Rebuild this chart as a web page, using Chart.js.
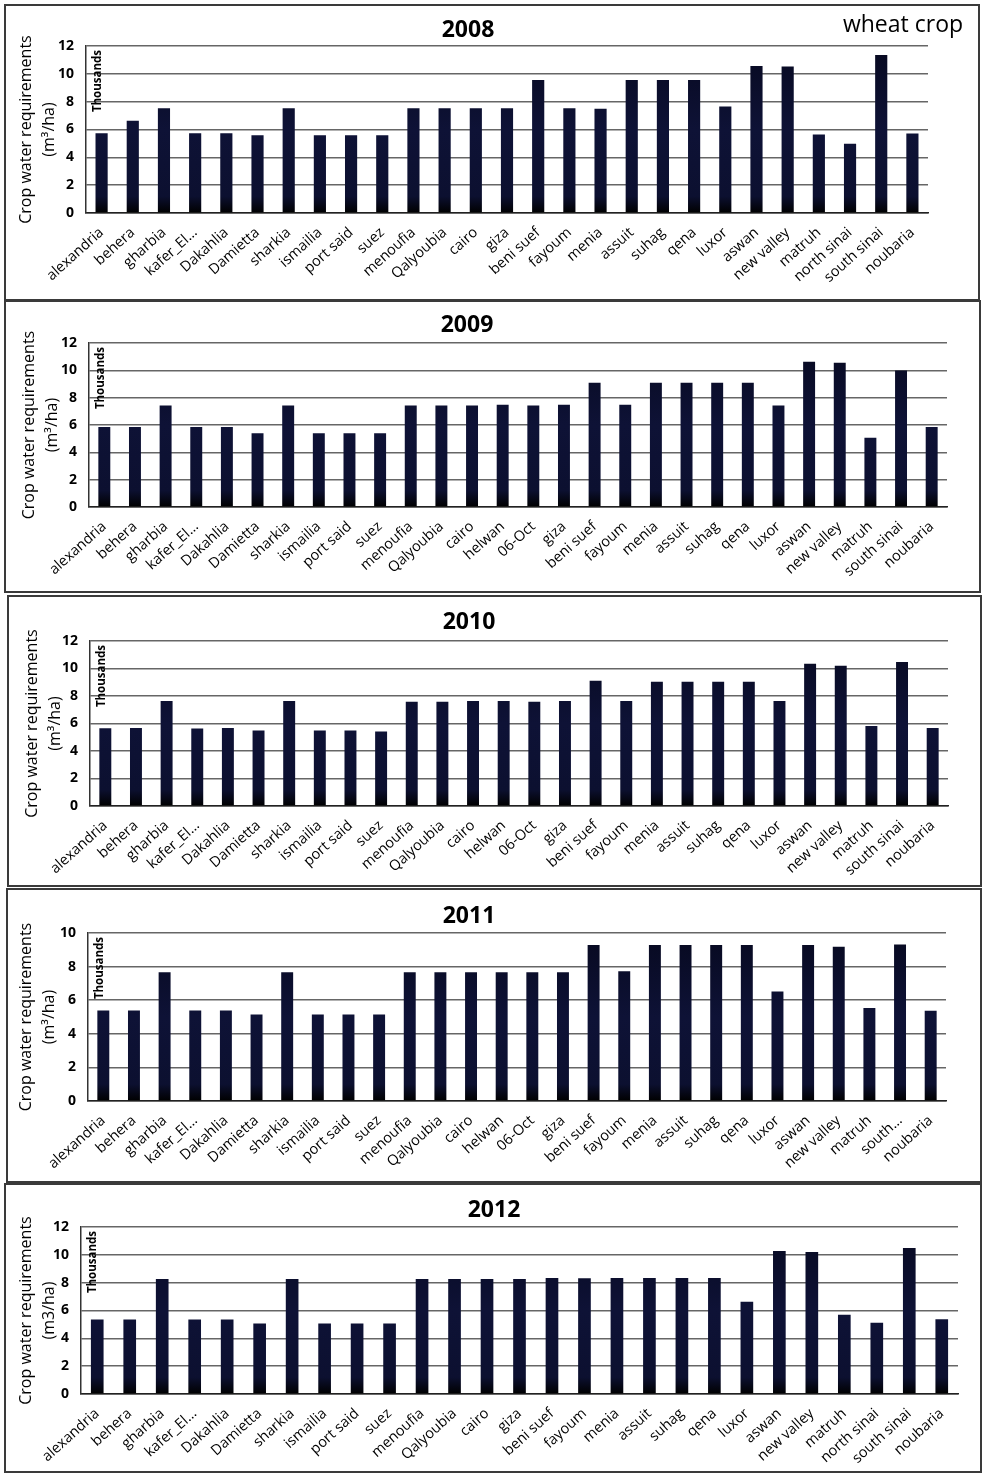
<!DOCTYPE html>
<html>
<head>
<meta charset="utf-8">
<script src="https://cdn.jsdelivr.net/npm/chart.js@4.4.0/dist/chart.umd.min.js"></script>
<style>
  html, body { margin: 0; padding: 0; background: #fff; }
  body { width: 982px; height: 1473px; position: relative; overflow: hidden; }
  .panel { position: absolute; box-sizing: border-box; border: 2px solid #3a3a3a; }
  .panel canvas { position: absolute; left: -2px; top: -2px; }
</style>
</head>
<body>
<script>
// governorates (two layouts: with north sinai, or with helwan / 06-Oct)
const govsA = ['alexandria', 'behera', 'gharbia', 'kafer_El…', 'Dakahlia', 'Damietta', 'sharkia',
  'ismailia', 'port said', 'suez', 'menoufia', 'Qalyoubia', 'cairo', 'giza', 'beni suef', 'fayoum',
  'menia', 'assuit', 'suhag', 'qena', 'luxor', 'aswan', 'new valley', 'matruh', 'north sinai',
  'south sinai', 'noubaria'];
const govsB = ['alexandria', 'behera', 'gharbia', 'kafer_El…', 'Dakahlia', 'Damietta', 'sharkia',
  'ismailia', 'port said', 'suez', 'menoufia', 'Qalyoubia', 'cairo', 'helwan', '06-Oct', 'giza',
  'beni suef', 'fayoum', 'menia', 'assuit', 'suhag', 'qena', 'luxor', 'aswan', 'new valley',
  'matruh', 'south sinai', 'noubaria'];
const govsC = ['alexandria', 'behera', 'gharbia', 'kafer_El…', 'Dakahlia', 'Damietta', 'sharkia',
  'ismailia', 'port said', 'suez', 'menoufia', 'Qalyoubia', 'cairo', 'helwan', '06-Oct', 'giza',
  'beni suef', 'fayoum', 'menia', 'assuit', 'suhag', 'qena', 'luxor', 'aswan', 'new valley',
  'matruh', 'south…', 'noubaria'];

// wheat water requirement, thousands of m3/ha
const water2008 = [5.73, 6.63, 7.52, 5.73, 5.73, 5.58, 7.52, 5.58, 5.58, 5.58, 7.52, 7.52, 7.52,
  7.53, 9.56, 7.53, 7.50, 9.56, 9.56, 9.56, 7.65, 10.57, 10.52, 5.64, 4.97, 11.36, 5.71];
const water2009 = [5.85, 5.85, 7.42, 5.85, 5.85, 5.39, 7.42, 5.39, 5.39, 5.39, 7.42, 7.42, 7.42,
  7.49, 7.42, 7.49, 9.09, 7.49, 9.09, 9.09, 9.09, 9.09, 7.42, 10.63, 10.56, 5.07, 9.99, 5.85];
const water2010 = [5.66, 5.68, 7.63, 5.64, 5.68, 5.49, 7.63, 5.49, 5.49, 5.42, 7.58, 7.58, 7.63,
  7.63, 7.58, 7.63, 9.11, 7.63, 9.04, 9.04, 9.04, 9.04, 7.63, 10.35, 10.20, 5.81, 10.47, 5.68];
const water2011 = [5.39, 5.39, 7.67, 5.39, 5.39, 5.15, 7.67, 5.15, 5.15, 5.15, 7.67, 7.67, 7.67,
  7.67, 7.67, 7.67, 9.28, 7.73, 9.28, 9.28, 9.28, 9.28, 6.52, 9.28, 9.18, 5.53, 9.32, 5.37];
const water2012 = [5.36, 5.36, 8.27, 5.36, 5.36, 5.07, 8.27, 5.07, 5.07, 5.07, 8.27, 8.27, 8.27,
  8.27, 8.34, 8.32, 8.34, 8.34, 8.34, 8.34, 6.62, 10.28, 10.21, 5.69, 5.12, 10.50, 5.38];

const years = ['2008', '2009', '2010', '2011', '2012'];
const yMax = [12, 12, 12, 10, 12];
const yStep = [2, 2, 2, 1, 2];
const unitLines = [
  ['Crop water requirements', '(m³/ha)'],
  ['Crop water requirements', '(m³/ha)'],
  ['Crop water requirements', '(m³/ha)'],
  ['Crop water requirements', '(m³/ha)'],
  ['Crop water requirements', '(m3/ha)']
];

const series = [
  { labels: govsA, values: water2008 },
  { labels: govsB, values: water2009 },
  { labels: govsB, values: water2010 },
  { labels: govsC, values: water2011 },
  { labels: govsA, values: water2012 }
];

// page geometry of each panel: outer box, plot area, title centre
const panels = [
  { box: [4, 4, 976, 297], plot: [86, 46, 928, 213], title: [468, 30], pad: 11, note: true },
  { box: [4, 300, 977, 293], plot: [89, 343, 947, 507], title: [467, 325], pad: 14 },
  { box: [7, 595, 975, 292], plot: [90, 641, 948, 806], title: [469, 622], pad: 14 },
  { box: [6, 888, 976, 295], plot: [88, 933, 946, 1101], title: [469, 916], pad: 9 },
  { box: [4, 1183, 978, 290], plot: [81, 1227, 958, 1394], title: [494, 1210], pad: 11 }
];

const FONT = "'Open Sans', 'DejaVu Sans', sans-serif";

function barFill(ctx) {
  const area = ctx.chart.chartArea;
  if (!area) return '#0d1033';
  const g = ctx.chart.ctx.createLinearGradient(0, area.top, 0, area.bottom);
  g.addColorStop(0, '#070920');
  g.addColorStop(0.5, '#0e1236');
  g.addColorStop(0.9, '#0c1030');
  g.addColorStop(1, '#000000');
  return g;
}

// year heading, "Thousands" unit tag and crop name
const panelText = {
  id: 'panelText',
  afterDraw(chart, args, opts) {
    const c = chart.ctx;
    const area = chart.chartArea;
    c.save();
    c.fillStyle = '#000';
    c.textAlign = 'center';
    c.textBaseline = 'middle';
    c.font = `bold 23px ${FONT}`;
    c.fillText(opts.year, opts.tx, opts.ty);
    if (opts.note) {
      c.font = `23px ${FONT}`;
      c.fillText('wheat crop', 903 - opts.ox, 25 - opts.oy);
    }
    c.translate(area.left + 12, area.top + 4);
    c.rotate(-Math.PI / 2);
    c.textAlign = 'right';
    c.font = `bold 11.5px ${FONT}`;
    c.fillText('Thousands', 0, 0);
    c.restore();
  }
};

panels.forEach((p, i) => {
  const [bx, by, bw, bh] = p.box;
  const [pl, pt, pr, pb] = p.plot;
  const div = document.createElement('div');
  div.className = 'panel';
  Object.assign(div.style, { left: bx + 'px', top: by + 'px', width: bw + 'px', height: bh + 'px' });
  const canvas = document.createElement('canvas');
  canvas.width = bw;
  canvas.height = bh;
  div.appendChild(canvas);
  document.body.appendChild(div);

  new Chart(canvas, {
    type: 'bar',
    data: {
      labels: series[i].labels,
      datasets: [{
        data: series[i].values,
        backgroundColor: barFill,
        borderWidth: 0,
        barPercentage: 0.39,
        categoryPercentage: 1
      }]
    },
    options: {
      responsive: false,
      animation: false,
      events: [],
      layout: { padding: { left: 0, top: pt - by, right: bx + bw - pr, bottom: 0 } },
      plugins: {
        legend: { display: false },
        tooltip: { enabled: false },
        panelText: { year: years[i], tx: p.title[0] - bx, ty: p.title[1] - by, note: !!p.note, ox: bx, oy: by }
      },
      scales: {
        x: {
          grid: { display: false, drawTicks: false },
          border: { color: '#222', width: 1.5 },
          ticks: {
            autoSkip: false, minRotation: 42, maxRotation: 42, padding: 11,
            color: '#000', font: { family: FONT, size: 14.5 }
          },
          afterFit: s => { s.height = by + bh - pb; }
        },
        y: {
          min: 0,
          max: yMax[i],
          ticks: { stepSize: yStep[i], padding: 12, color: '#000', font: { family: FONT, size: 14, weight: 'bold' } },
          grid: { color: '#666', lineWidth: 1.5, drawTicks: false },
          border: { color: '#333', width: 1.5 },
          title: {
            display: true,
            text: unitLines[i],
            color: '#000',
            font: { family: FONT, size: 16, lineHeight: 1.45 },
            padding: { top: p.pad, bottom: 0 }
          },
          afterFit: s => { s.width = pl - bx; }
        }
      }
    },
    plugins: [panelText]
  });
});
</script>
</body>
</html>
